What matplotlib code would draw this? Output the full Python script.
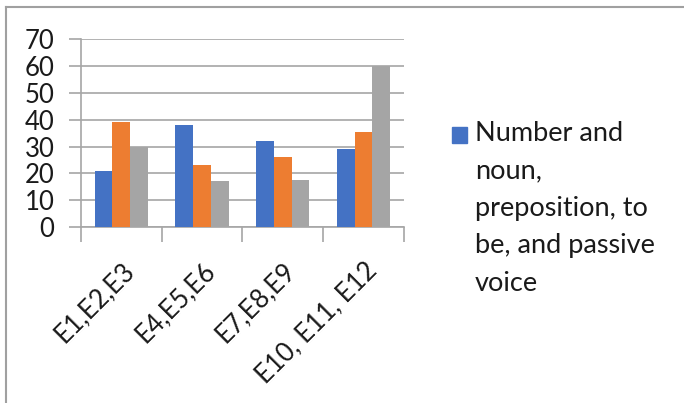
import matplotlib.pyplot as plt
import numpy as np
from matplotlib.lines import Line2D
from matplotlib.patches import Rectangle

categories = ['E1,E2,E3', 'E4,E5,E6', 'E7,E8,E9', 'E10, E11, E12']
series_1 = [21, 38, 32, 29]
series_2 = [39, 23, 26, 35.5]
series_3 = [30, 17, 17.5, 60]
legend_label = 'Number and\nnoun,\npreposition, to\nbe, and passive\nvoice'

colors = ['#4472C4', '#ED7D31', '#A5A5A5']
grid_color = '#A6A6A6'
font = 'Lato'

fig = plt.figure(figsize=(6.84, 4.03), dpi=100)
ax = fig.add_axes([0.1184, 0.4367, 0.4722, 0.4658])

x = np.arange(len(categories))
w = 0.22
for i, vals in enumerate([series_1, series_2, series_3]):
    ax.bar(x + (i - 1) * w, vals, width=w, color=colors[i], zorder=3)

ax.set_xlim(-0.5, len(categories) - 0.5)
ax.set_ylim(0, 70)
ax.set_yticks(range(0, 71, 10))
ax.yaxis.grid(True, color=grid_color, linewidth=1.2, zorder=0)

for s in ['top', 'right']:
    ax.spines[s].set_visible(False)
for s in ['left', 'bottom']:
    ax.spines[s].set_color(grid_color)
    ax.spines[s].set_linewidth(1.2)

ax.tick_params(axis='y', length=9, width=1.2, color=grid_color, pad=10,
               labelsize=18.5)
# category ticks sit on the boundaries, labels at the centres
ax.set_xticks(np.arange(-0.5, len(categories), 1.0))
ax.set_xticklabels([])
ax.tick_params(axis='x', which='major', length=11, width=1.2, color=grid_color)
ax.set_xticks(x, minor=True)
ax.set_xticklabels(categories, minor=True, rotation=45, ha='right',
                   rotation_mode='anchor', fontsize=18.5, fontfamily=font)
ax.tick_params(axis='x', which='minor', length=0, pad=22)
for lab in ax.get_yticklabels():
    lab.set_fontfamily(font)
    lab.set_color('#1a1a1a')
for lab in ax.get_xticklabels(minor=True):
    lab.set_color('#1a1a1a')

# legend (single entry, wrapped text)
fig.patches.append(Rectangle((452 / 684, 1 - 143 / 403), 15 / 684, 16 / 403,
                             transform=fig.transFigure, color=colors[0]))
fig.text(475 / 684, 1 - 121 / 403, legend_label, fontsize=19.5, fontfamily=font,
         va='top', ha='left', linespacing=1.62, color='#1a1a1a')

# chart frame
fig.add_artist(Line2D([6 / 684, 6 / 684], [0, 1 - 7 / 403], color='#A0A0A0',
                      linewidth=1.5, transform=fig.transFigure))
fig.add_artist(Line2D([6 / 684, 1], [1 - 7 / 403, 1 - 7 / 403], color='#A0A0A0',
                      linewidth=1.5, transform=fig.transFigure))

fig.savefig('out.png', dpi=100)
